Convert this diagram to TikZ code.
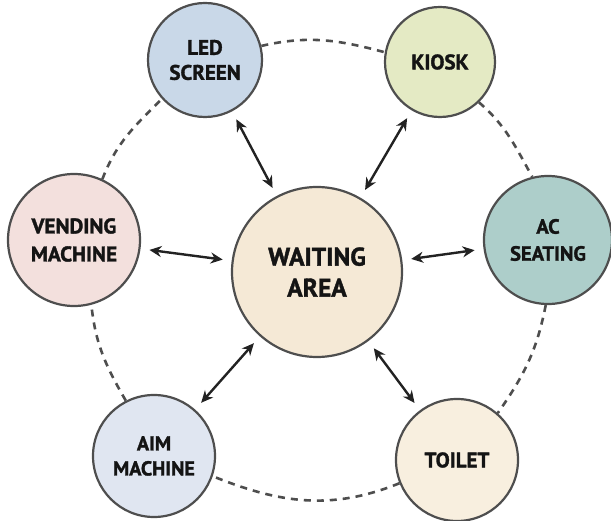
\documentclass[tikz,border=0pt]{standalone}
\usepackage{fontspec}
\setmainfont{PT Sans}[BoldFeatures={FakeBold=1.5}]
\usetikzlibrary{arrows.meta}
\definecolor{ledc}{HTML}{C9D8E8}
\definecolor{kioskc}{HTML}{E4EAC4}
\definecolor{vendc}{HTML}{F3E0DD}
\definecolor{acc}{HTML}{ADCECA}
\definecolor{wac}{HTML}{F5E9D6}
\definecolor{aimc}{HTML}{E0E6F1}
\definecolor{toiletc}{HTML}{F8EFDF}
\definecolor{edgec}{HTML}{4E4E4E}
\definecolor{inkc}{HTML}{141414}
\definecolor{linkc}{HTML}{222222}
\tikzset{
  place/.style={circle, draw=edgec, line width=2.2pt, inner sep=0pt, align=center,
    text=inkc, font=\bfseries},
  lbl/.style={font=\bfseries\fontsize{21}{25}\selectfont},
  link/.style={<->, >={Stealth[length=12pt,width=11pt]}, line width=2.4pt, draw=linkc,
    shorten <=9pt, shorten >=9pt},
  ring/.style={draw=edgec, line width=2.6pt, dash pattern=on 7pt off 6pt}
}
\begin{document}
\begin{tikzpicture}[x=1pt,y=1pt]
\useasboundingbox (0,0) rectangle (611,520);
\node[place, fill=wac, minimum size=170pt, font=\bfseries\fontsize{25.5}{31}\selectfont] (wa) at (317,248) {WAITING\\AREA};
\node[place, lbl, fill=ledc, minimum size=114pt] (led) at (205,460) {LED\\SCREEN};
\node[place, lbl, fill=kioskc, minimum size=110pt] (kiosk) at (440,458) {KIOSK};
\node[place, lbl, fill=vendc, minimum size=132pt, font=\bfseries\fontsize{21.3}{28}\selectfont] (vend) at (74,280) {VENDING\\MACHINE};
\node[place, lbl, fill=acc, minimum size=128pt, font=\bfseries\fontsize{20.5}{27}\selectfont] (ac) at (548,280) {AC\\SEATING};
\node[place, lbl, fill=aimc, minimum size=122pt, font=\bfseries\fontsize{20.2}{25}\selectfont] (aim) at (154,64) {AIM\\MACHINE};
\node[place, lbl, fill=toiletc, minimum size=122pt] (toilet) at (457,60) {TOILET};

\draw[ring] (led.14) to[out=13,in=165] (kiosk.170);
\draw[ring] (kiosk.-46) to[out=-41,in=119] (ac.104);
\draw[ring] (ac.-92) to[out=-101,in=55] (toilet.49);
\draw[ring] (toilet.202) to[out=202,in=-22] (aim.-19);
\draw[ring] (aim.117) to[out=120,in=-84] (vend.-75);
\draw[ring] (vend.65) to[out=69,in=225] (led.222);

\draw[link] (wa) -- (led);
\draw[link] (wa) -- (kiosk);
\draw[link] (wa) -- (vend);
\draw[link] (wa) -- (ac);
\draw[link] (wa) -- (aim);
\draw[link] (wa) -- (toilet);
\end{tikzpicture}
\end{document}
